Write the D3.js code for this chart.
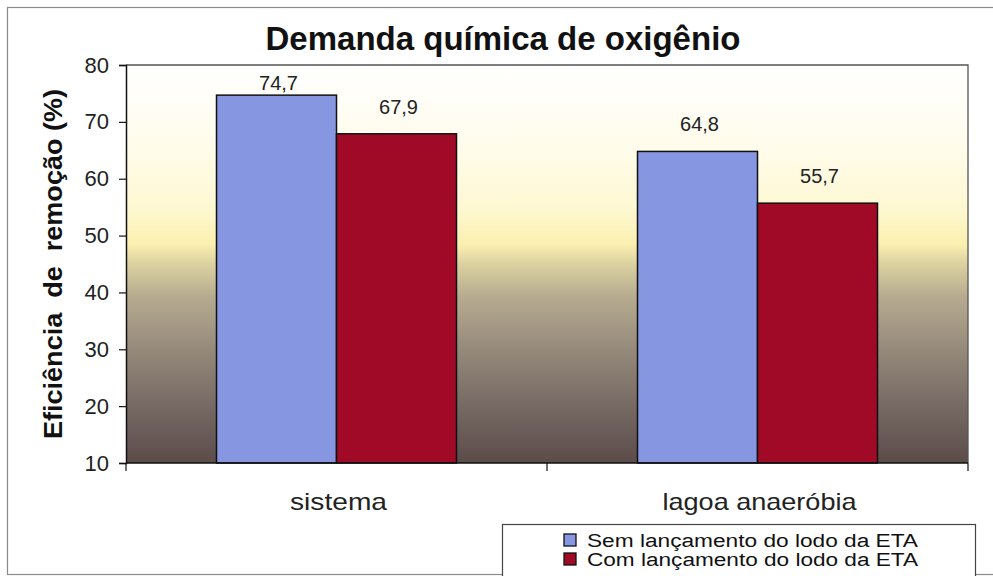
<!DOCTYPE html>
<html>
<head>
<meta charset="utf-8">
<script src="https://cdn.jsdelivr.net/npm/d3@7"></script>
<style>
  html, body { margin: 0; padding: 0; background: #fff; }
  svg { display: block; font-family: "Liberation Sans", Arial, sans-serif; }
</style>
</head>
<body>
<svg id="chart" width="993" height="576"></svg>
<script>
// Chart data
const categories = ["sistema", "lagoa anaeróbia"];
const seriesNames = ["Sem lançamento do lodo da ETA", "Com lançamento do lodo da ETA"];
const semValues = [74.7, 64.8];
const comValues = [67.9, 55.7];
const yTicks = [10, 20, 30, 40, 50, 60, 70, 80];
const seriesColors = ["#8796e0", "#a00a26"];

const svg = d3.select("#chart");
const W = 993, H = 576;
const plot = { left: 126, right: 968, top: 65, bottom: 463 };

// Outer frame
svg.append("rect")
  .attr("x", 7.5).attr("y", 7.5).attr("width", W + 10).attr("height", H - 9)
  .attr("fill", "#fff").attr("stroke", "#8a8a8a").attr("stroke-width", 1.2);

// Background gradient of the plot area
const defs = svg.append("defs");
const grad = defs.append("linearGradient").attr("id", "bgGrad")
  .attr("x1", 0).attr("y1", 0).attr("x2", 0).attr("y2", 1);
[
  [0.00, "#ffffff"],
  [0.20, "#fffcec"],
  [0.36, "#fef8d2"],
  [0.45, "#fbf0b0"],
  [0.50, "#dbd1a0"],
  [0.58, "#b7ac90"],
  [0.72, "#94887a"],
  [0.86, "#766963"],
  [1.00, "#5b4c4a"]
].forEach(([o, c]) => grad.append("stop").attr("offset", o).attr("stop-color", c));

svg.append("rect")
  .attr("x", plot.left).attr("y", plot.top)
  .attr("width", plot.right - plot.left).attr("height", plot.bottom - plot.top)
  .attr("fill", "url(#bgGrad)");

// Scales
const y = d3.scaleLinear().domain([10, 80]).range([plot.bottom, plot.top]);
const x0 = d3.scaleBand().domain(categories).range([plot.left, plot.right]).padding(0);
const groupWidth = 240;
const x1 = d3.scaleBand().domain(seriesNames).range([0, groupWidth]).padding(0);
const groupOffset = (x0.bandwidth() - groupWidth) / 2;

const rows = categories.map((c, i) => ({
  category: c,
  values: [
    { series: seriesNames[0], value: semValues[i], color: seriesColors[0] },
    { series: seriesNames[1], value: comValues[i], color: seriesColors[1] }
  ]
}));

// Plot frame (top and right)
svg.append("path")
  .attr("d", `M${plot.left},${plot.top}H${plot.right}V${plot.bottom}`)
  .attr("fill", "none").attr("stroke", "#555").attr("stroke-width", 1.3);

// Bars
const groups = svg.append("g").selectAll("g").data(rows).join("g")
  .attr("transform", d => `translate(${x0(d.category) + groupOffset},0)`);

groups.selectAll("rect").data(d => d.values).join("rect")
  .attr("x", d => x1(d.series))
  .attr("y", d => y(d.value))
  .attr("width", x1.bandwidth())
  .attr("height", d => y(10) - y(d.value))
  .attr("fill", d => d.color)
  .attr("stroke", "#111")
  .attr("stroke-width", 1.5);

// Value labels above bars, kept inside the plot area
groups.selectAll("text.val").data(d => d.values).join("text")
  .attr("class", "val")
  .attr("x", d => x1(d.series) + x1.bandwidth() / 2 + 2)
  .attr("y", d => Math.max(y(d.value) - 20, plot.top + 25))
  .attr("text-anchor", "middle")
  .attr("font-size", 20)
  .attr("fill", "#222")
  .text(d => d3.format(".1f")(d.value).replace(".", ","));

// Y axis
const yAxis = svg.append("g")
  .attr("transform", `translate(${plot.left},0)`)
  .call(d3.axisLeft(y).tickValues(yTicks).tickSize(7).tickPadding(10).tickFormat(d3.format("d")));
yAxis.select(".domain").attr("stroke", "#111").attr("stroke-width", 1.5);
yAxis.selectAll(".tick line").attr("stroke", "#111").attr("stroke-width", 1.2);
yAxis.selectAll(".tick text")
  .attr("font-size", 22).attr("fill", "#222")
  .attr("font-family", "Liberation Sans, Arial, sans-serif");

// X axis line with ticks at category boundaries
const xAxis = svg.append("g");
xAxis.append("line")
  .attr("x1", plot.left).attr("x2", plot.right)
  .attr("y1", plot.bottom).attr("y2", plot.bottom)
  .attr("stroke", "#111").attr("stroke-width", 1.5);
const bounds = categories.map(c => x0(c)).concat([x0(categories[categories.length - 1]) + x0.bandwidth()]);
xAxis.selectAll("line.tick").data(bounds).join("line")
  .attr("class", "tick")
  .attr("x1", d => d).attr("x2", d => d)
  .attr("y1", plot.bottom).attr("y2", plot.bottom + 8)
  .attr("stroke", "#111").attr("stroke-width", 1.2);

// Category labels
const catWidths = [97, 194];
xAxis.selectAll("text").data(categories).join("text")
  .attr("x", d => x0(d) + x0.bandwidth() / 2 + 2)
  .attr("y", 510)
  .attr("text-anchor", "middle")
  .attr("font-size", 24)
  .attr("fill", "#222")
  .attr("textLength", (d, i) => catWidths[i])
  .attr("lengthAdjust", "spacingAndGlyphs")
  .text(d => d);

// Title
svg.append("text")
  .attr("x", 503).attr("y", 50)
  .attr("text-anchor", "middle")
  .attr("font-size", 33).attr("font-weight", "bold").attr("fill", "#111")
  .text("Demanda química de oxigênio");

// Y axis title
svg.append("text")
  .attr("transform", "translate(62,264) rotate(-90)")
  .attr("text-anchor", "middle")
  .attr("font-size", 25).attr("font-weight", "bold").attr("fill", "#111")
  .attr("textLength", 350).attr("lengthAdjust", "spacingAndGlyphs")
  .style("white-space", "pre")
  .text("Eficiência  de  remoção (%)");

// Legend
const legend = svg.append("g");
legend.append("rect")
  .attr("x", 502.5).attr("y", 524.5).attr("width", 473).attr("height", 70)
  .attr("fill", "#fff").attr("stroke", "#444").attr("stroke-width", 1.2);
const items = legend.selectAll("g.item").data(seriesNames).join("g")
  .attr("class", "item")
  .attr("transform", (d, i) => `translate(0,${i * 19})`);
items.append("rect")
  .attr("x", 564).attr("y", 534).attr("width", 12).attr("height", 12)
  .attr("fill", (d, i) => seriesColors[i]).attr("stroke", "#111").attr("stroke-width", 1.3);
items.append("text")
  .attr("x", 587).attr("y", 547)
  .attr("font-size", 18).attr("fill", "#111")
  .attr("textLength", 331).attr("lengthAdjust", "spacingAndGlyphs")
  .text(d => d);
</script>
</body>
</html>
